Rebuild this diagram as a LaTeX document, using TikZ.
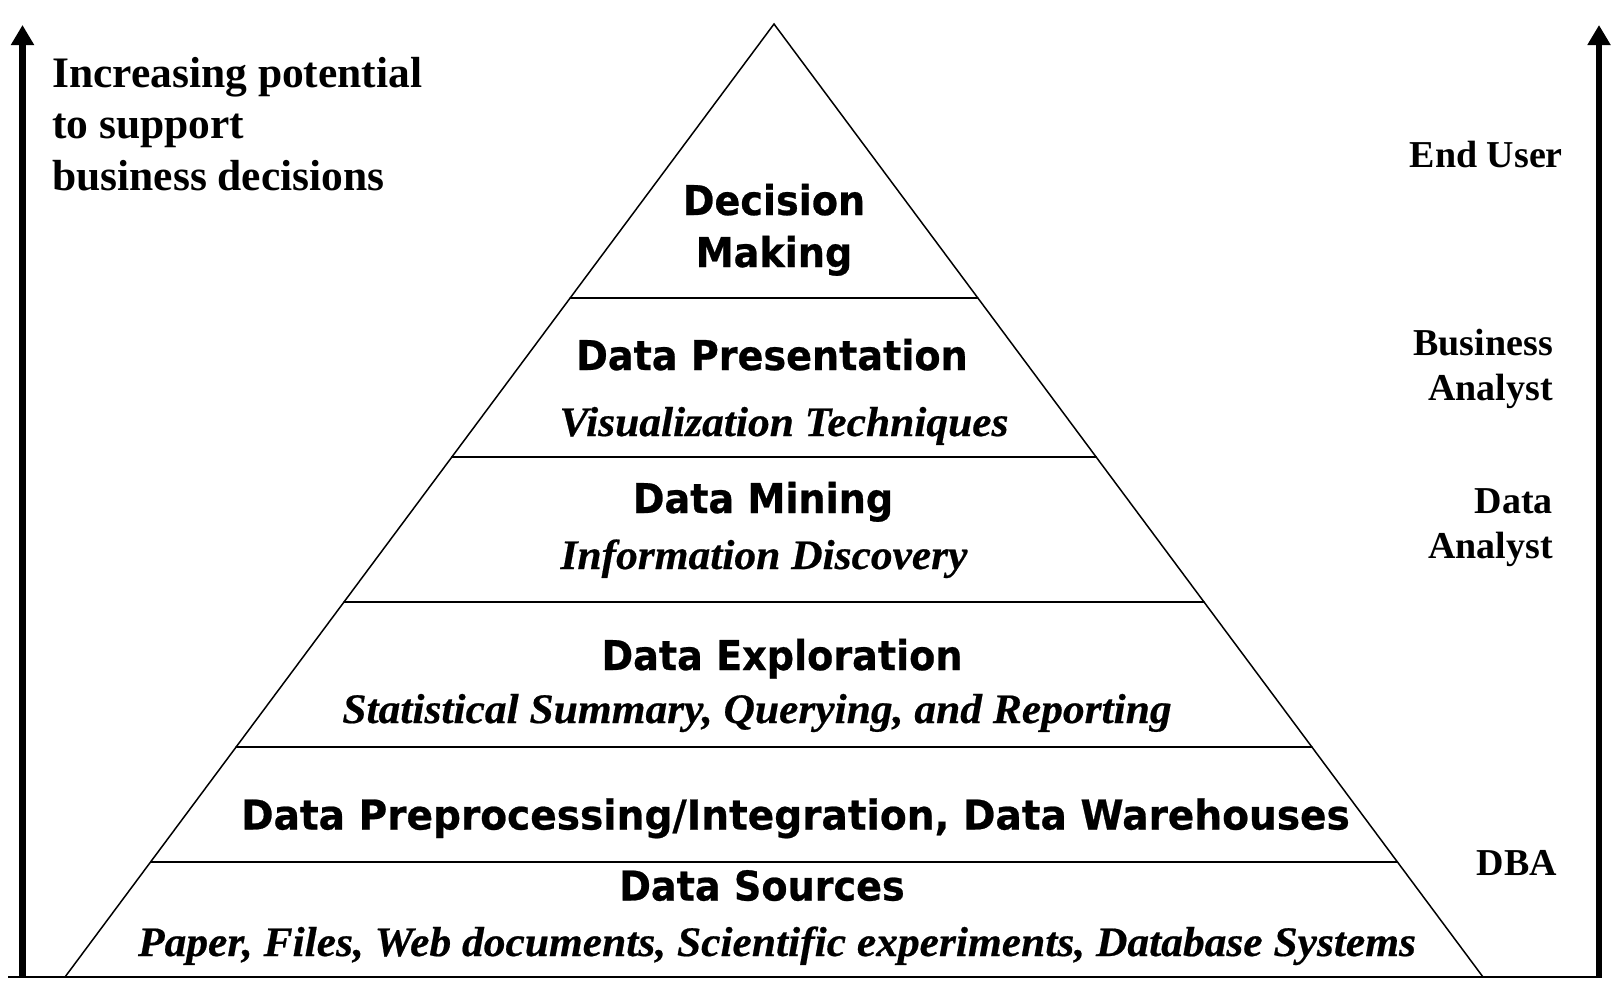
\documentclass[tikz,border=0pt]{standalone}
\usepackage{fontspec}
\setmainfont{Liberation Serif}
\newfontfamily\pyrfont{DejaVu Sans}[FakeStretch=0.93,BoldFeatures={FakeBold=0.6}]
\newfontfamily\pyrwide{DejaVu Sans}[FakeStretch=0.953,BoldFeatures={FakeBold=0.6}]
\newfontfamily\bifont{Liberation Serif}[UprightFont=* Bold Italic,FakeStretch=1.035,FakeBold=0.5]
\usetikzlibrary{arrows.meta,calc}
\begin{document}
\begin{tikzpicture}[x=1pt,y=-1pt,
  thinline/.style={line width=1.5pt,line cap=round},
  axisarrow/.style={line width=6.5pt,-{Triangle[width=22pt,length=20pt]}},
  sidetext/.style={font=\fontsize{43.5}{52}\selectfont\bfseries,inner sep=0pt,anchor=base west},
  rolelbl/.style={font=\fontsize{38}{45}\selectfont\bfseries,inner sep=0pt,anchor=base east},
  ptitle/.style={font=\pyrfont\bfseries\fontsize{41}{52}\selectfont,inner sep=0pt,anchor=base},
  psub/.style={font=\bifont\fontsize{42}{50}\selectfont,inner sep=0pt,anchor=base}]
\useasboundingbox (0,0) rectangle (1624,996);
% frame coordinates
\coordinate (apex) at (774,24);
\coordinate (bl) at (65,977);
\coordinate (br) at (1483,977);
\coordinate (baseL) at (8,977);
\coordinate (baseR) at (1602,977);
\coordinate (laxb) at (22.5,977);
\coordinate (laxt) at (22.5,25);
\coordinate (raxb) at (1599,977);
\coordinate (raxt) at (1599,25);
% axis arrows
\draw[axisarrow] (laxb) -- (laxt);
\draw[axisarrow] (raxb) -- (raxt);
% base line and pyramid
\draw[line width=2.3pt] (baseL) -- (baseR);
\draw[thinline,line join=miter] (bl) -- (apex) -- (br);
\foreach \f in {0.2875,0.4544,0.6065,0.7587,0.8793}{
  \draw[thinline] ($(apex)!\f!(bl)$) -- ($(apex)!\f!(br)$);
}
% left text
\node[sidetext] (t1) at (52,87) {Increasing potential};
\node[sidetext] (t2) at (52,138.5) {to support};
\node[sidetext] (t3) at (52,190) {business decisions};
% role labels
\node[rolelbl] (eu) at (1563,167) {End User};
\node[rolelbl] (ba1) at (1553,355) {Business};
\node[rolelbl] (ba2) at (1553,400) {Analyst};
\node[rolelbl] (da1) at (1553,513) {Data};
\node[rolelbl] (da2) at (1553,558) {Analyst};
\node[rolelbl] (dba) at (1557,875) {DBA};
% pyramid texts
\node[ptitle] (dm1) at (774,215) {Decision};
\node[ptitle] (dm2) at (774,267) {Making};
\node[ptitle] (dp) at (772,370) {Data Presentation};
\node[psub] (vt) at (784,436) {Visualization Techniques};
\node[ptitle] (dmin) at (763,513) {Data Mining};
\node[psub] (id) at (764,569) {Information Discovery};
\node[ptitle] (de) at (782,670) {Data Exploration};
\node[psub] (ss) at (757,723) {Statistical Summary, Querying, and Reporting};
\node[ptitle,font=\pyrwide\bfseries\fontsize{41}{52}\selectfont] (dpi) at (795.5,829.5) {Data Preprocessing/Integration, Data Warehouses};
\node[ptitle] (ds) at (762,900.5) {Data Sources};
\node[psub] (ps) at (777,956) {Paper, Files, Web documents, Scientific experiments, Database Systems};
\end{tikzpicture}
\end{document}
